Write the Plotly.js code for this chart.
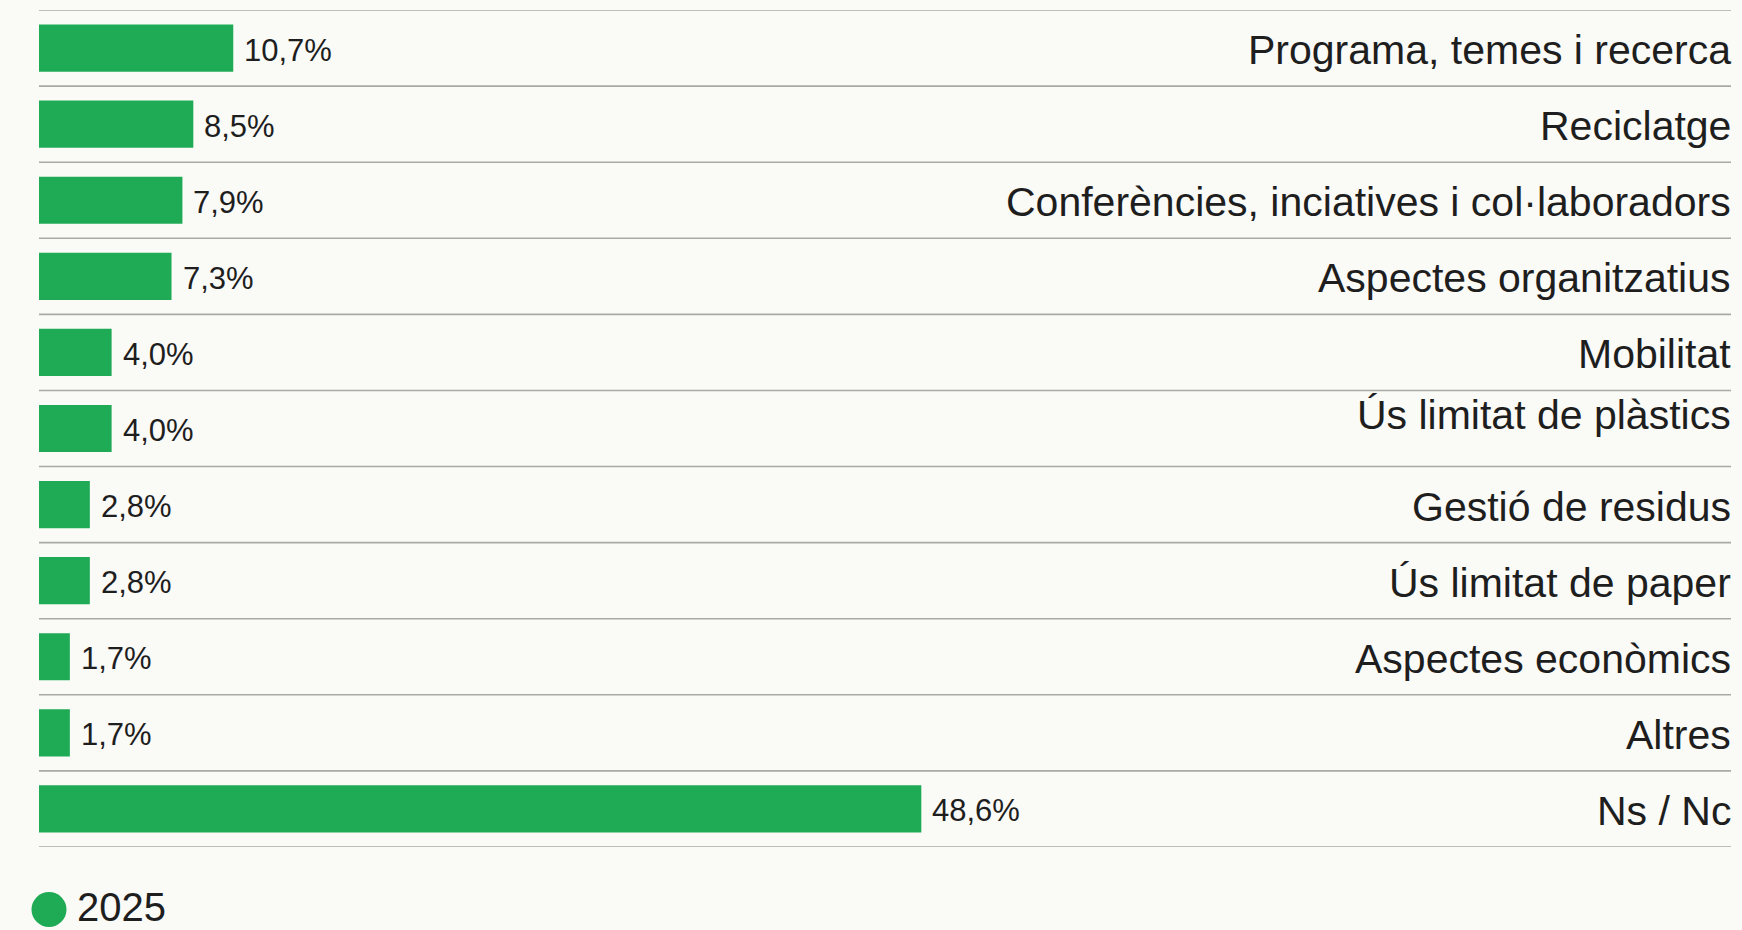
<!DOCTYPE html>
<html>
<head>
<meta charset="utf-8">
<script src="https://cdn.plot.ly/plotly-3.0.1.min.js"></script>
<style>
  html, body { margin: 0; padding: 0; background: #fafaf7; }
  #chart { width: 1742px; height: 930px; }
</style>
</head>
<body>
<div id="chart"></div>
<script>
const categories = [
  "Programa, temes i recerca",
  "Reciclatge",
  "Conferències, inciatives i col·laboradors",
  "Aspectes organitzatius",
  "Mobilitat",
  "Ús limitat de plàstics",
  "Gestió de residus",
  "Ús limitat de paper",
  "Aspectes econòmics",
  "Altres",
  "Ns / Nc"
];
const values2025 = [10.7, 8.5, 7.9, 7.3, 4.0, 4.0, 2.8, 2.8, 1.7, 1.7, 48.6];
const seriesName = "2025";

const GREEN = "#1fab55";
const TEXT = "#1e1e1e";
const GRID = "#a9a9a5";
const BG = "#fafaf7";
const FONT = "Liberation Sans, Arial, sans-serif";

const fmt = v => v.toFixed(1).replace(".", ",") + "%";

const trace = {
  type: "bar",
  orientation: "h",
  x: values2025,
  y: categories,
  marker: { color: GREEN },
  hoverinfo: "skip",
  showlegend: false
};

const annotations = [];
categories.forEach((c, i) => {
  annotations.push({
    x: 1, xref: "paper", xanchor: "right", xshift: 2,
    y: c, yref: "y", yanchor: "middle",
    text: c, showarrow: false,
    yshift: c === "Ús limitat de plàstics" ? 14 : -2,
    font: { family: FONT, size: 41, color: TEXT }
  });
  annotations.push({
    x: values2025[i], xref: "x", xanchor: "left", xshift: 9,
    y: c, yref: "y", yanchor: "middle", yshift: -2,
    text: fmt(values2025[i]), showarrow: false,
    font: { family: FONT, size: 31, color: TEXT }
  });
});
// legend text
annotations.push({
  x: 0, xref: "paper", xanchor: "left", xshift: 36,
  y: 0, yref: "paper", yanchor: "middle", yshift: -60,
  text: seriesName, showarrow: false,
  font: { family: FONT, size: 40, color: TEXT }
});

const shapes = [];
for (let k = 0; k <= categories.length; k++) {
  shapes.push({
    type: "line", xref: "paper", yref: "y",
    x0: 0, x1: 1, y0: k - 0.5, y1: k - 0.5,
    line: { color: GRID, width: 1.6 }
  });
}
// legend marker (circle)
shapes.push({
  type: "circle", xref: "paper", yref: "paper",
  xsizemode: "pixel", ysizemode: "pixel",
  xanchor: 0, yanchor: 0,
  x0: -7.5, x1: 27.5, y0: -80, y1: -45,
  fillcolor: GREEN, line: { width: 0 }
});

const layout = {
  width: 1742, height: 930,
  margin: { l: 39, r: 11, t: 10, b: 83 },
  paper_bgcolor: BG, plot_bgcolor: BG,
  bargap: 0.38,
  xaxis: {
    range: [0, 93.2], showgrid: false, zeroline: false,
    showticklabels: false, showline: false, fixedrange: true
  },
  yaxis: {
    type: "category", range: [categories.length - 0.5, -0.5],
    showgrid: false, zeroline: false, showticklabels: false,
    showline: false, fixedrange: true
  },
  annotations: annotations,
  shapes: shapes,
  showlegend: false
};

Plotly.newPlot("chart", [trace], layout, { displayModeBar: false, staticPlot: true });
</script>
</body>
</html>
